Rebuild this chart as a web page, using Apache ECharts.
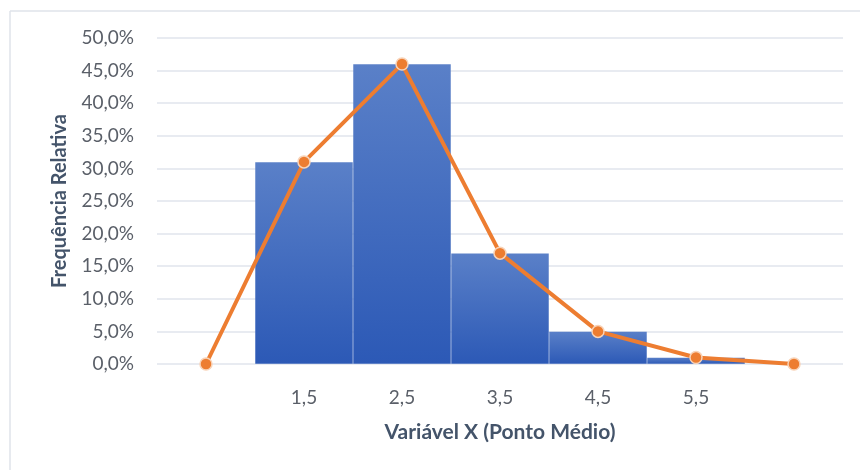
<!DOCTYPE html>
<html>
<head>
<meta charset="utf-8">
<script src="https://cdn.jsdelivr.net/npm/echarts@6/dist/echarts.min.js"></script>
<style>
  html, body { margin: 0; padding: 0; background: #ffffff; }
  #chart { width: 860px; height: 470px; }
</style>
</head>
<body>
<div id="chart"></div>
<script>
// Classes (midpoints), with empty slots at both ends for the polygon anchors
const categories = ['', '1,5', '2,5', '3,5', '4,5', '5,5', ''];
// Relative frequency per class, in percent (histogram bars)
const barValues = [null, 31, 46, 17, 5, 1, null];
// Frequency polygon, closed at zero on both sides
const lineValues = [0, 31, 46, 17, 5, 1, 0];
// Y axis bounds, in percent
const yMin = 0, yMax = 50, yStep = 5;

const FONT = 'Lato, "Noto Sans", sans-serif';

const chart = echarts.init(document.getElementById('chart'), null, { renderer: 'canvas' });
chart.setOption({
  animation: false,
  backgroundColor: '#ffffff',
  graphic: [
    { type: 'line', shape: { x1: 10, y1: 11, x2: 860, y2: 11 }, style: { stroke: '#dfe3ea', lineWidth: 1.5 } },
    { type: 'line', shape: { x1: 10, y1: 11, x2: 10, y2: 470 }, style: { stroke: '#dfe3ea', lineWidth: 1.5 } }
  ],
  grid: { left: 157, right: 17, top: 38, bottom: 106 },
  xAxis: {
    type: 'category',
    data: categories,
    boundaryGap: true,
    axisLine: { show: false },
    axisTick: { show: false },
    axisLabel: { color: '#5a5f68', fontSize: 19, fontFamily: FONT, margin: 24 },
    name: 'Variável X (Ponto Médio)',
    nameLocation: 'middle',
    nameGap: 58,
    nameTextStyle: { color: '#44546a', fontSize: 21, fontWeight: 'bold', fontFamily: FONT }
  },
  yAxis: {
    type: 'value',
    min: yMin, max: yMax, interval: yStep,
    axisLine: { show: false },
    axisTick: { show: false },
    splitLine: { lineStyle: { color: '#e1e5ec', width: 1.5 } },
    axisLabel: {
      color: '#5a5f68', fontSize: 19, fontFamily: FONT, margin: 23,
      formatter: v => v.toFixed(1).replace('.', ',') + '%'
    },
    name: 'Frequência Relativa',
    nameLocation: 'middle',
    nameGap: 87,
    nameTextStyle: { color: '#44546a', fontSize: 20, fontWeight: 'bold', fontFamily: FONT }
  },
  series: [
    {
      type: 'bar',
      data: barValues,
      barWidth: '100%',
      barGap: '-100%',
      itemStyle: {
        color: new echarts.graphic.LinearGradient(0, 0, 0, 1, [
          { offset: 0, color: '#5a80c8' },
          { offset: 1, color: '#2c59b6' }
        ]),
        borderColor: 'rgba(255,255,255,0.06)',
        borderWidth: 0.5
      }
    },
    {
      type: 'line',
      data: lineValues,
      symbol: 'circle',
      symbolSize: 12,
      lineStyle: { color: '#ed7d31', width: 4 },
      itemStyle: { color: '#ed7d31', borderColor: '#f8d3b8', borderWidth: 1.5 },
      z: 3
    }
  ]
});
</script>
</body>
</html>
